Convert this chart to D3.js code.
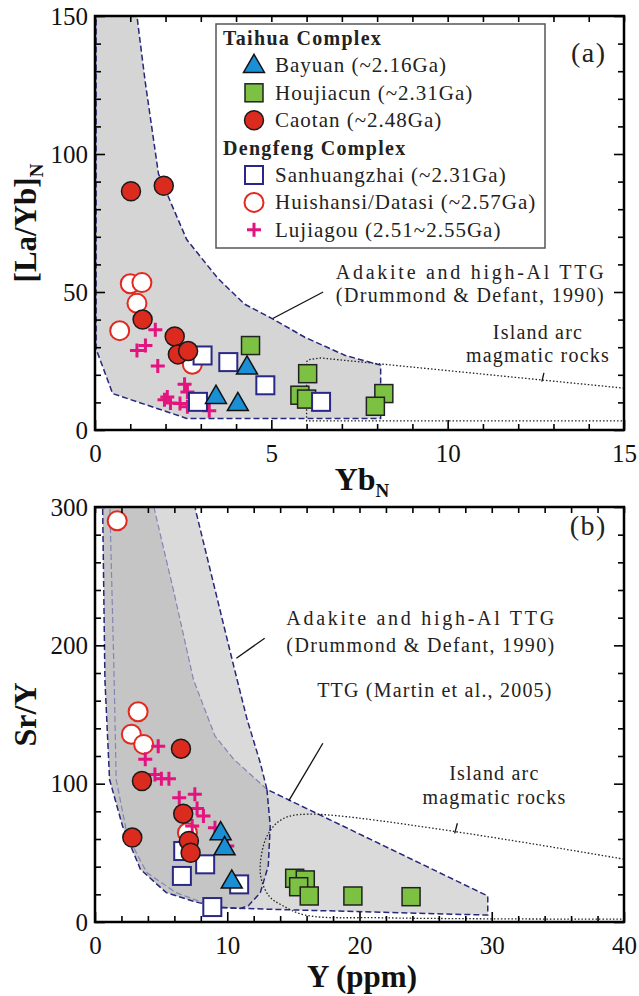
<!DOCTYPE html>
<html>
<head>
<meta charset="utf-8">
<script src="https://cdn.jsdelivr.net/npm/d3@7"></script>
<style>
  html, body { margin: 0; padding: 0; background: #fff; }
  svg text { font-family: "Liberation Serif", "Times New Roman", serif; }
</style>
</head>
<body>
<div id="chart"></div>
<script>
// --- datos panel (a): [Yb_N, (La/Yb)_N] ---
const bayuanA = [[3.43, 12.2], [4.05, 9.6], [4.31, 22.8]];
const houjiacunA = [[4.41, 30.6], [6.03, 20.4], [5.81, 12.6], [6.0, 11.2], [8.19, 13.2], [7.95, 8.6]];
const caotanA = [[1.02, 86.5], [1.95, 88.5], [1.35, 40], [2.26, 33.9], [2.35, 27.4], [2.64, 28.6]];
const sanhuangzhaiA = [[3.05, 27], [3.78, 24.6], [4.83, 16.2], [2.92, 10.2], [6.41, 10.2]];
const huishansiA = [[1.0, 53], [1.33, 53.4], [1.19, 45.9], [0.7, 36], [2.76, 23.8]];
const lujiagouA = [[1.71, 36.3], [1.43, 30.6], [1.19, 28.8], [1.78, 23.2], [2.54, 16.6], [1.97, 11.0],
  [2.14, 9.8], [2.05, 12], [2.41, 9.6], [2.62, 13.8], [2.62, 8.4], [3.24, 7.0]];

// --- datos panel (b): [Y, Sr/Y] ---
const bayuanB = [[9.5, 64.6], [9.8, 53.7], [10.34, 29.6]];
const houjiacunB = [[15.1, 31.6], [15.9, 30.4], [15.4, 25.5], [16.2, 18.8], [19.5, 18.8], [23.9, 18.3]];
const caotanB = [[6.5, 125.3], [3.55, 101.9], [6.67, 78.3], [7.1, 58.6], [7.23, 50.1], [2.82, 61]];
const sanhuangzhaiB = [[6.67, 51.3], [8.33, 41.7], [6.57, 33.3], [10.9, 27.2], [8.87, 10.8]];
const huishansiB = [[1.68, 290], [3.26, 152], [2.75, 135.7], [3.68, 128.4], [6.99, 64.6]];
const lujiagouB = [[4.78, 127], [3.8, 117.6], [4.53, 106.7], [5.02, 103.6], [5.59, 103.6], [6.37, 89.9],
  [7.55, 92.3], [7.72, 82], [8.2, 76.6], [7.35, 69.4], [9.07, 68.2], [10.0, 55]];

// --- campos de discriminación ---
const adakiteA = [[0.03, 152], [0.03, 29.4], [0.5, 13.2], [2.6, 4.2], [8.1, 4.2], [8.1, 23.5], [7.1, 27],
  [5.95, 33.6], [5.05, 40.2], [4.24, 45.6], [3.48, 55], [2.6, 69], [1.8, 92.8], [1.42, 126.5], [1.17, 152]];
const arcA = [[15.2, 14.9], [6.4, 26.1], [6.1, 25.6], [6.0, 24.8], [6.0, 3.3], [15.2, 3.3]];

const ttgLeftB = [[0.55, 305], [0.58, 298], [0.75, 175], [1.1, 103], [2.08, 69.4], [3.43, 38.1], [5.39, 21.2], [7.6, 14.5], [9.56, 10.4]];
const ttgRightLowB = [[9.56, 10.4], [11.0, 9.8], [11.6, 11.8], [12.5, 21.2], [13.1, 40.5], [13.25, 69.4], [13.0, 95.9]];
const ttgRightUpB = [[13.0, 95.9], [10.5, 117.6], [9.07, 134.5], [7.45, 175], [6.0, 237], [4.5, 298], [4.45, 305]];
const adaLeftB = [[1.1, 305], [1.13, 298], [1.45, 175], [1.6, 103], [2.45, 62.2], [3.92, 35.7], [6.13, 21.2], [7.84, 15.2], [9.56, 10.4]];
const adaOuterB = [[9.56, 10.4], [13.2, 9.2], [29.7, 5], [29.7, 18.8], [13.0, 95.9], [12.5, 115], [11.5, 146.5],
  [10.5, 184.6], [7.6, 298], [7.55, 305]];
const arcB = [[40.5, 44.6], [16.2, 78], [14.1, 74], [13.0, 62], [12.5, 42], [12.6, 30], [13.2, 18.3],
  [14.1, 12.3], [15.9, 5], [22, 3], [40.5, 2]];

const legendItems = [
  { head: 'Taihua Complex' },
  { name: 'Bayuan (~2.16Ga)', type: 'tri' },
  { name: 'Houjiacun (~2.31Ga)', type: 'sqg' },
  { name: 'Caotan (~2.48Ga)', type: 'cir' },
  { head: 'Dengfeng Complex' },
  { name: 'Sanhuangzhai (~2.31Ga)', type: 'sqo' },
  { name: 'Huishansi/Datasi (~2.57Ga)', type: 'ciro' },
  { name: 'Lujiagou (2.51~2.55Ga)', type: 'plus' }
];

const width = 639, height = 996;
const navy = '#27277d', lightDash = '#8585b5';

const svg = d3.select('#chart').append('svg')
  .attr('width', width).attr('height', height);

const xA = d3.scaleLinear().domain([0, 15]).range([95, 624]);
const yA = d3.scaleLinear().domain([0, 150]).range([430, 16]);
const xB = d3.scaleLinear().domain([0, 40]).range([95, 624]);
const yB = d3.scaleLinear().domain([0, 300]).range([922, 507]);

// --- marcadores ---
function marker(g, type) {
  if (type === 'tri') {
    g.append('path').attr('d', d3.symbol(d3.symbolTriangle, 190)())
      .attr('transform', 'translate(0,1)')
      .attr('fill', '#1b8fd3').attr('stroke', '#111').attr('stroke-width', 1.5);
  } else if (type === 'sqg') {
    g.append('rect').attr('x', -9).attr('y', -9).attr('width', 18).attr('height', 18)
      .attr('fill', '#7dc143').attr('stroke', '#222').attr('stroke-width', 1.5);
  } else if (type === 'cir') {
    g.append('circle').attr('r', 9.5)
      .attr('fill', '#db2a1e').attr('stroke', '#1a1a1a').attr('stroke-width', 1.5);
  } else if (type === 'sqo') {
    g.append('rect').attr('x', -9).attr('y', -9).attr('width', 18).attr('height', 18)
      .attr('fill', '#fff').attr('stroke', '#2a2886').attr('stroke-width', 2);
  } else if (type === 'ciro') {
    g.append('circle').attr('r', 9.5)
      .attr('fill', '#fff').attr('stroke', '#e5281e').attr('stroke-width', 2);
  } else if (type === 'plus') {
    g.append('path').attr('d', 'M-7,0H7M0,-7V7')
      .attr('fill', 'none').attr('stroke', '#e4147f').attr('stroke-width', 3);
  }
}

function drawSeries(layer, data, x, y, type) {
  layer.append('g').selectAll('g')
    .data(data)
    .join('g')
    .attr('transform', d => `translate(${x(d[0])},${y(d[1])})`)
    .each(function () { marker(d3.select(this), type); });
}

function drawAxes(x, y, xMinor, xMajor, yMinor, yMajor) {
  const [x0, x1] = x.range();
  const [y0, y1] = y.range();
  const ax = svg.append('g');
  const styleAxis = sel => {
    sel.select('.domain').remove();
    sel.selectAll('line').attr('stroke', '#000').attr('stroke-width', 1.6);
    sel.selectAll('text').attr('font-size', 25).attr('fill', '#111')
      .style('font-family', '"Liberation Serif", serif');
  };
  // abajo
  ax.append('g').attr('transform', `translate(0,${y0})`)
    .call(d3.axisBottom(x).tickValues(xMinor).tickSize(-6).tickFormat(''))
    .call(styleAxis);
  ax.append('g').attr('transform', `translate(0,${y0})`)
    .call(d3.axisBottom(x).tickValues(xMajor).tickSize(-10).tickPadding(14).tickFormat(d3.format('d')))
    .call(styleAxis);
  // arriba
  ax.append('g').attr('transform', `translate(0,${y1})`)
    .call(d3.axisTop(x).tickValues(xMinor.concat(xMajor)).tickSize(-6).tickFormat(''))
    .call(styleAxis);
  // izquierda
  ax.append('g').attr('transform', `translate(${x0},0)`)
    .call(d3.axisLeft(y).tickValues(yMinor).tickSize(-6).tickFormat(''))
    .call(styleAxis);
  ax.append('g').attr('transform', `translate(${x0},0)`)
    .call(d3.axisLeft(y).tickValues(yMajor).tickSize(-10).tickPadding(7).tickFormat(d3.format('d')))
    .call(styleAxis);
  // derecha
  ax.append('g').attr('transform', `translate(${x1},0)`)
    .call(d3.axisRight(y).tickValues(yMinor).tickSize(-6).tickFormat(''))
    .call(styleAxis);
  ax.append('g').attr('transform', `translate(${x1},0)`)
    .call(d3.axisRight(y).tickValues(yMajor).tickSize(-10).tickFormat(''))
    .call(styleAxis);
  ax.append('rect').attr('x', x0).attr('y', y1).attr('width', x1 - x0).attr('height', y0 - y1)
    .attr('fill', 'none').attr('stroke', '#000').attr('stroke-width', 2.5);
}

function clip(id, x, y) {
  const [x0, x1] = x.range();
  const [y0, y1] = y.range();
  svg.append('clipPath').attr('id', id).append('rect')
    .attr('x', x0).attr('y', y1).attr('width', x1 - x0).attr('height', y0 - y1);
  return svg.append('g').attr('clip-path', `url(#${id})`);
}

function textLines(x, y, lines, opts) {
  lines.forEach(l => {
    svg.append('text')
      .attr('x', x(l[0])).attr('y', y(l[1]))
      .attr('text-anchor', opts.anchor || 'start')
      .attr('font-size', opts.size || 20)
      .attr('letter-spacing', opts.ls || 1.2)
      .attr('fill', '#222')
      .attr('textLength', l[3] || null)
      .attr('lengthAdjust', l[3] ? 'spacing' : null)
      .text(l[2]);
  });
}
function leader(x, y, p) {
  svg.append('line').attr('x1', x(p[0][0])).attr('y1', y(p[0][1]))
    .attr('x2', x(p[1][0])).attr('y2', y(p[1][1]))
    .attr('stroke', '#111').attr('stroke-width', 1.3);
}

// ======== Panel (a) ========
const gA = clip('clipA', xA, yA);
const lineA = d3.line().x(d => xA(d[0])).y(d => yA(d[1]));
gA.append('path').attr('d', lineA(adakiteA) + 'Z')
  .attr('fill', '#d5d5d5').attr('stroke', navy).attr('stroke-width', 1.5).attr('stroke-dasharray', '6,3');
gA.append('path').attr('d', lineA(arcA))
  .attr('fill', 'none').attr('stroke', '#222').attr('stroke-width', 1.3).attr('stroke-dasharray', '1.5,2');

textLines(xA, yA, [[6.83, 54.8, 'Adakite and high-Al TTG', 269], [6.83, 46.4, '(Drummond & Defant, 1990)', 269]], {});
leader(xA, yA, [[6.47, 50], [5.04, 40.4]]);
textLines(xA, yA, [[12.56, 32.9, 'Island arc'], [12.56, 24.6, 'magmatic rocks']], { anchor: 'middle' });
leader(xA, yA, [[12.73, 20.7], [12.67, 17.5]]);

const ptsA = svg.append('g');
drawSeries(ptsA, huishansiA, xA, yA, 'ciro');
drawSeries(ptsA, lujiagouA, xA, yA, 'plus');
drawSeries(ptsA, houjiacunA, xA, yA, 'sqg');
drawSeries(ptsA, sanhuangzhaiA, xA, yA, 'sqo');
drawSeries(ptsA, caotanA, xA, yA, 'cir');
drawSeries(ptsA, bayuanA, xA, yA, 'tri');

drawAxes(xA, yA, d3.range(1, 15).filter(v => v % 5), [0, 5, 10, 15],
  d3.range(10, 150, 10).filter(v => v % 50), [0, 50, 100, 150]);

// leyenda
const leg = svg.append('g');
leg.append('rect').attr('x', 216).attr('y', 24).attr('width', 329).attr('height', 224)
  .attr('fill', '#fff').attr('stroke', '#555').attr('stroke-width', 1.5);
legendItems.forEach((it, i) => {
  const yy = 45 + i * 27.4;
  if (it.head) {
    leg.append('text').attr('x', 223).attr('y', yy).attr('font-size', 20).attr('font-weight', 'bold')
      .attr('letter-spacing', 1.3).attr('fill', '#222').text(it.head);
  } else {
    const g = leg.append('g').attr('transform', `translate(254,${yy - 7})`);
    marker(g, it.type);
    leg.append('text').attr('x', 275).attr('y', yy).attr('font-size', 21)
      .attr('letter-spacing', 1).attr('fill', '#222').text(it.name);
  }
});

svg.append('text').attr('x', xA(14.0)).attr('y', yA(133.4)).attr('text-anchor', 'middle')
  .attr('font-size', 28).attr('letter-spacing', 1.5).attr('fill', '#222').text('(a)');

// títulos de ejes (a)
const tA = svg.append('text').attr('transform', `translate(36,${yA(75)}) rotate(-90)`)
  .attr('text-anchor', 'middle').attr('font-size', 31).attr('font-weight', 'bold').attr('fill', '#111');
tA.append('tspan').text('[La/Yb]');
tA.append('tspan').attr('font-size', 19).attr('dy', 7).text('N');
const xtA = svg.append('text').attr('x', 362).attr('y', 490).attr('text-anchor', 'middle')
  .attr('font-size', 32).attr('font-weight', 'bold').attr('fill', '#111');
xtA.append('tspan').text('Yb');
xtA.append('tspan').attr('font-size', 19).attr('dy', 7).text('N');

// ======== Panel (b) ========
const gB = clip('clipB', xB, yB);
const lineB = d3.line().x(d => xB(d[0])).y(d => yB(d[1]));
const ttgPoly = ttgLeftB.concat(ttgRightLowB.slice(1), ttgRightUpB.slice(1));
const adaPoly = adaLeftB.concat(adaOuterB.slice(1));
gB.append('path').attr('d', lineB(adaPoly) + 'Z').attr('fill', '#dadada');
gB.append('path').attr('d', lineB(ttgPoly) + 'Z').attr('fill', '#c5c5c5');
[[adaLeftB, lightDash, 1.2], [ttgRightUpB, lightDash, 1.2],
 [ttgLeftB, navy, 1.5], [ttgRightLowB, navy, 1.5], [adaOuterB, navy, 1.5]].forEach(([pts, c, w]) => {
  gB.append('path').attr('d', lineB(pts)).attr('fill', 'none')
    .attr('stroke', c).attr('stroke-width', w).attr('stroke-dasharray', '6,3');
});
gB.append('path').attr('d', d3.line().x(d => xB(d[0])).y(d => yB(d[1])).curve(d3.curveCatmullRom)(arcB))
  .attr('fill', 'none').attr('stroke', '#222').attr('stroke-width', 1.3).attr('stroke-dasharray', '1.5,2');

textLines(xB, yB, [[14.47, 214.8, 'Adakite and high-Al TTG', 269], [14.47, 195.2, '(Drummond & Defant, 1990)', 269]], {});
leader(xB, yB, [[12.83, 205.1], [10.69, 190.7]]);
textLines(xB, yB, [[16.8, 162.7, 'TTG (Martin et al., 2005)']], {});
leader(xB, yB, [[17.23, 129.2], [14.66, 87.7]]);
textLines(xB, yB, [[30.2, 102.5, 'Island arc'], [30.2, 85.5, 'magmatic rocks']], { anchor: 'middle' });
leader(xB, yB, [[27.4, 71.4], [27.2, 64.1]]);

const ptsB = svg.append('g');
drawSeries(ptsB, huishansiB, xB, yB, 'ciro');
drawSeries(ptsB, lujiagouB, xB, yB, 'plus');
drawSeries(ptsB, houjiacunB, xB, yB, 'sqg');
drawSeries(ptsB, sanhuangzhaiB, xB, yB, 'sqo');
drawSeries(ptsB, caotanB, xB, yB, 'cir');
drawSeries(ptsB, bayuanB, xB, yB, 'tri');

drawAxes(xB, yB, d3.range(2, 40, 2).filter(v => v % 10), [0, 10, 20, 30, 40],
  d3.range(20, 300, 20).filter(v => v % 100), [0, 100, 200, 300]);

svg.append('text').attr('x', xB(37.3)).attr('y', yB(280)).attr('text-anchor', 'middle')
  .attr('font-size', 28).attr('letter-spacing', 1.5).attr('fill', '#222').text('(b)');

svg.append('text').attr('transform', `translate(36,${yB(150)}) rotate(-90)`)
  .attr('text-anchor', 'middle').attr('font-size', 32).attr('font-weight', 'bold').attr('fill', '#111')
  .text('Sr/Y');
svg.append('text').attr('x', 362).attr('y', 987).attr('text-anchor', 'middle')
  .attr('font-size', 31).attr('font-weight', 'bold').attr('fill', '#111').text('Y (ppm)');
</script>
</body>
</html>
